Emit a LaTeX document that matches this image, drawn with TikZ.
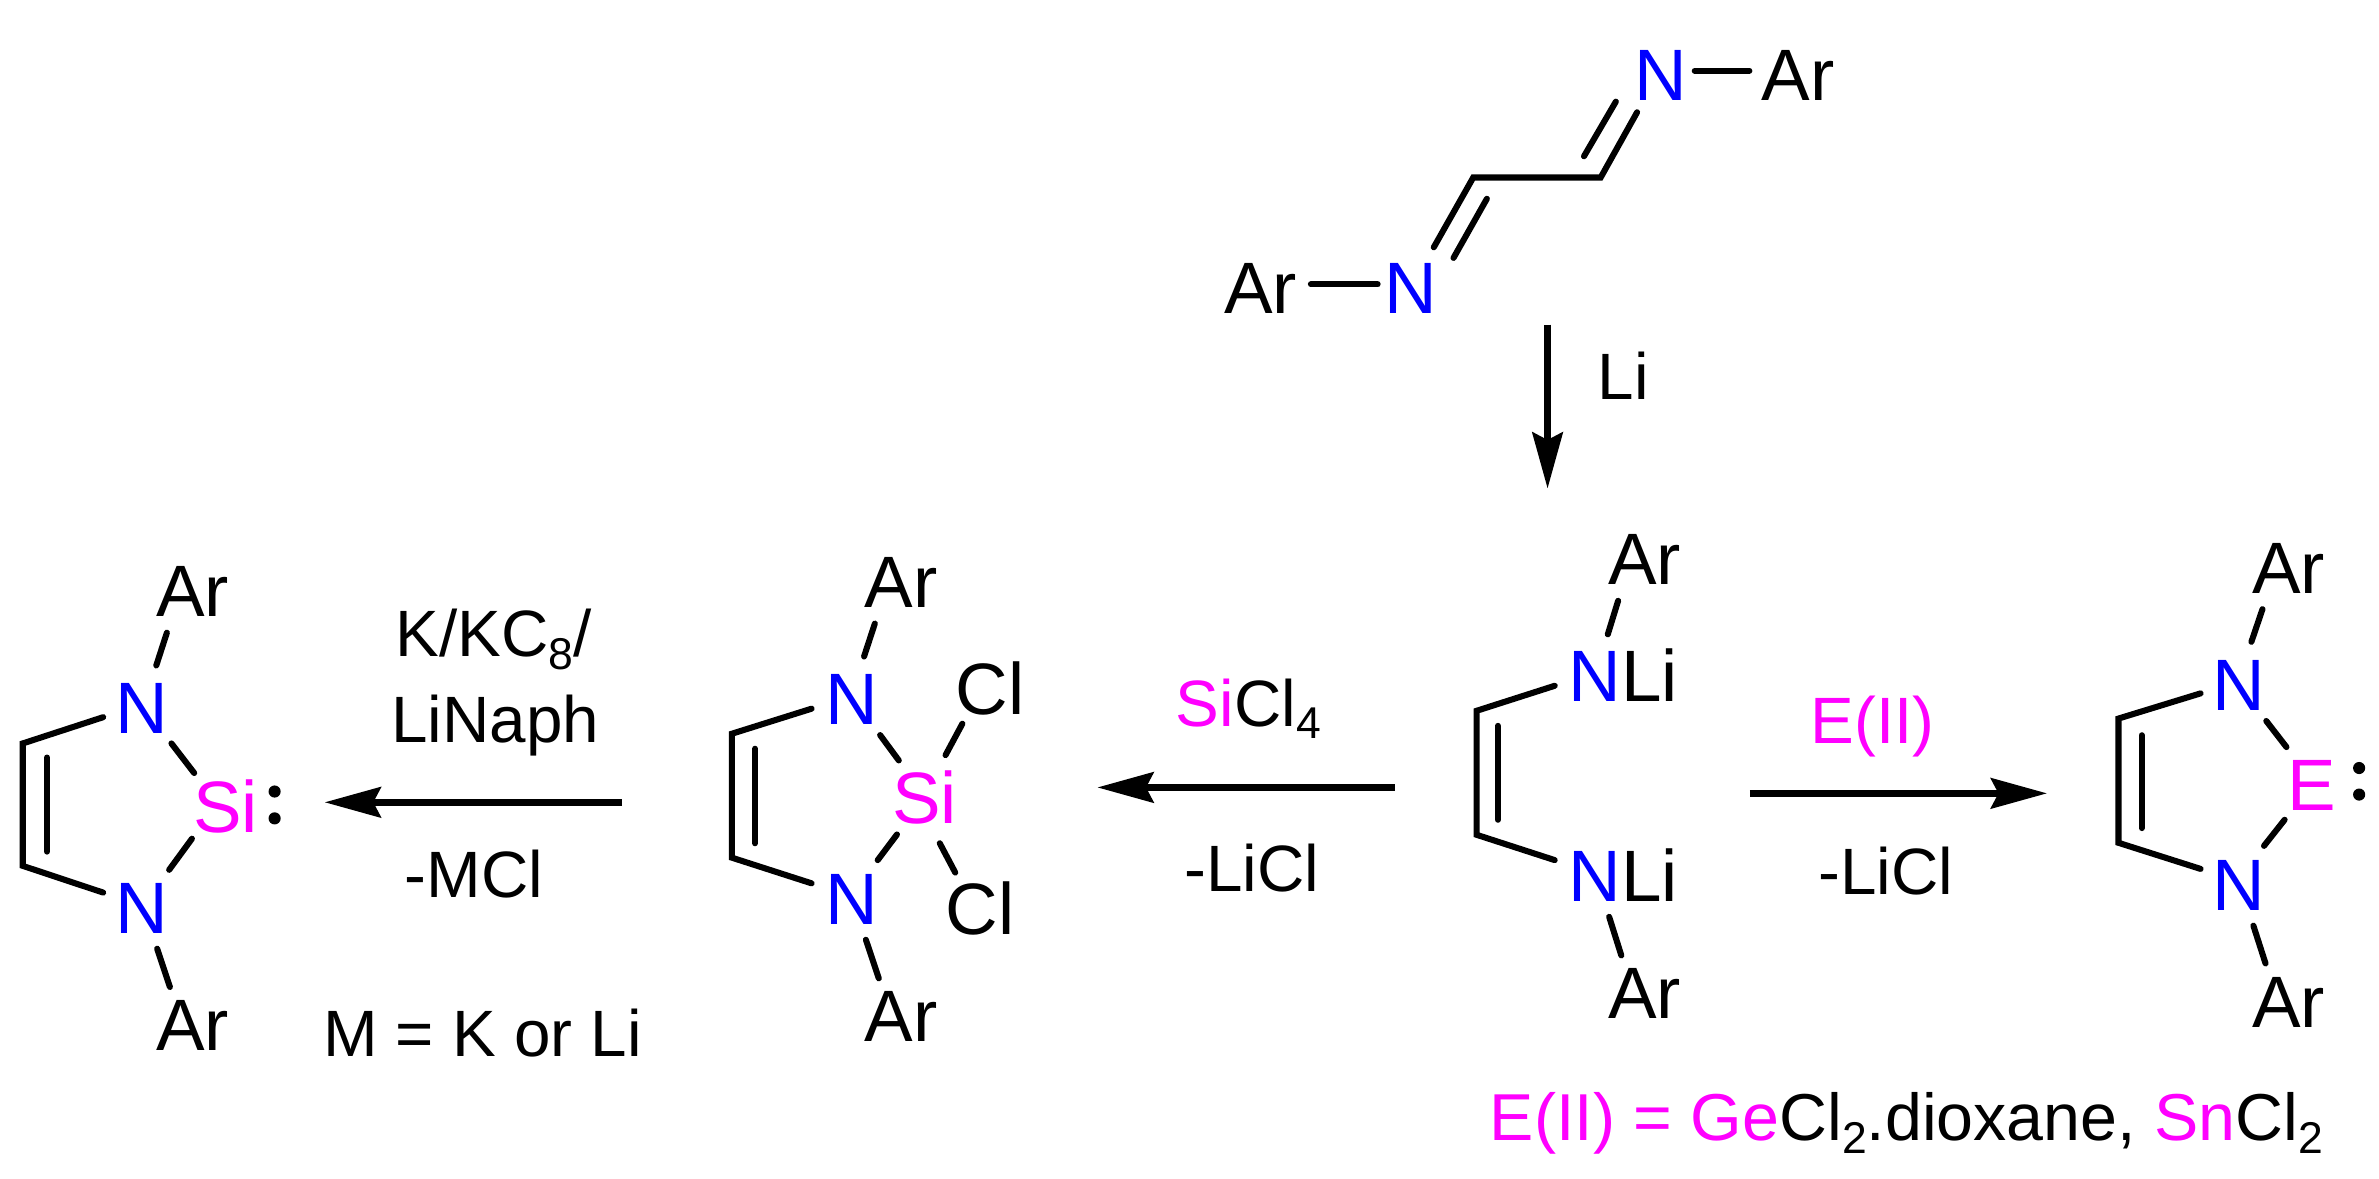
\documentclass[tikz,border=0pt]{standalone}
\usepackage{fontspec}
\setmainfont{Liberation Sans}
\usetikzlibrary{arrows.meta}
\definecolor{atomblue}{RGB}{0,0,255}
\definecolor{atommag}{RGB}{255,0,255}
\newcommand{\atomsize}{\fontsize{36}{36}\selectfont}
\newcommand{\reagsize}{\fontsize{32.4}{36}\selectfont}
\newcommand{\lowsub}[1]{\raisebox{-6pt}{\fontsize{22}{22}\selectfont #1}}
\newcommand{\mg}[1]{\textcolor{atommag}{#1}}
\newcommand{\bnd}[3]{\coordinate (#1a) at (#2); \coordinate (#1b) at (#3); \draw[bond] (#1a) -- (#1b);}
\tikzset{
  lbl/.style={inner sep=0pt,outer sep=0pt,anchor=base west,text=black},
  atomlbl/.style={lbl,font=\atomsize},
  reag/.style={lbl,font=\reagsize},
  natom/.style={atomlbl,text=atomblue},
  matom/.style={atomlbl,text=atommag},
  bond/.style={line width=3pt,line cap=round,line join=miter,draw=black},
  react/.style={line width=3.3pt,draw=black,-{Stealth[length=27.75pt,width=15pt,inset=3.75pt]}},
  lonedot/.style={circle,fill=black,inner sep=0pt,minimum size=6pt}
}
\begin{document}
\begin{tikzpicture}[x=0.75pt,y=-0.75pt]
\useasboundingbox (0,0) rectangle (1568,777);
% diimine
\node[natom] (n1) at (1077.4,66) {N};
\node[atomlbl] (ar1) at (1161,66) {Ar};
\node[natom] (n2) at (912.4,206.6) {N};
\node[atomlbl] (ar2) at (807,206.6) {Ar};
\bnd{t1}{1117,46.6}{1153,46.6}
\bnd{t2}{864,187.4}{908,187.4}
\coordinate (c1) at (971,117); \coordinate (c2) at (1055,117);
\coordinate (t3) at (945,163); \coordinate (t4) at (1079,74);
\draw[bond] (t3) -- (c1) -- (c2) -- (t4);
\bnd{t5}{980,131}{958,170}
\bnd{t6}{1065,67}{1044,103}
\coordinate (d1) at (1020,214); \coordinate (d2) at (1020,322);
\draw[react] (d1) -- (d2);
\node[reag] (li) at (1053,263) {Li};
% left silylene
\node[atomlbl] (a1) at (103,406.4) {Ar};
\node[natom] (a2) at (76.4,483.6) {N};
\node[matom] (a3) at (127.3,549) {Si};
\node[natom] (a4) at (76.4,615.4) {N};
\node[atomlbl] (a5) at (103,692.4) {Ar};
\node[lonedot] (a6) at (181,521.7) {};
\node[lonedot] (a7) at (181,539.4) {};
\coordinate (ar1c) at (68,472.7); \coordinate (ar2c) at (15,490);
\coordinate (ar3c) at (15,570.7); \coordinate (ar4c) at (68,588.3);
\draw[bond] (ar1c) -- (ar2c) -- (ar3c) -- (ar4c);
\bnd{a8}{31,499.3}{31,561.3}
\bnd{a9}{110,417}{103,438.6}
\bnd{a10}{113,490}{128,509.5}
\bnd{a11}{126.5,552.8}{111.5,573.3}
\bnd{a12}{103.6,625.3}{112,650.5}
\coordinate (e1) at (410,528.8); \coordinate (e2) at (214,528.8);
\draw[react] (e1) -- (e2);
\node[reag] (r1) at (260.8,433) {K/KC\lowsub{8}/};
\node[reag] (r2) at (258,489.5) {LiNaph};
\node[reag] (r3) at (266.7,591.6) {-MCl};
\node[reag] (r4) at (213,696.4) {M = K or Li};
% SiCl2 compound
\node[atomlbl] (b1) at (569.8,400.5) {Ar};
\node[natom] (b2) at (544.3,477.7) {N};
\node[matom] (b3) at (588,543) {Si};
\node[atomlbl] (b4) at (629.8,471) {Cl};
\node[atomlbl] (b5) at (623.5,615.9) {Cl};
\node[natom] (b6) at (544.3,609.5) {N};
\node[atomlbl] (b7) at (569.8,686.5) {Ar};
\coordinate (br1) at (534.9,467.1); \coordinate (br2) at (482.4,483.6);
\coordinate (br3) at (482.4,565.3); \coordinate (br4) at (534.9,582.2);
\draw[bond] (br1) -- (br2) -- (br3) -- (br4);
\bnd{b8}{497.7,493.5}{497.7,555.8}
\bnd{b9}{576.6,411}{569.5,432.7}
\bnd{b10}{580.1,484.5}{592.4,501.2}
\bnd{b11}{591.2,550}{578.5,566.9}
\bnd{b12}{634.3,477}{623.2,497.7}
\bnd{b13}{619.4,555.8}{629.6,575.1}
\bnd{b14}{570.7,619.4}{579.2,644.8}
\coordinate (f1) at (919.3,519); \coordinate (f2) at (723.3,519);
\draw[react] (f1) -- (f2);
\node[reag] (s1) at (775,479) {\mg{Si}Cl\lowsub{4}};
\node[reag] (s2) at (780.6,587.8) {-LiCl};
% dilithio
\node[atomlbl] (c3) at (1060,385.4) {Ar};
\node[atomlbl] (c4) at (1034,462.6) {\textcolor{atomblue}{N}Li};
\node[atomlbl] (c5) at (1034,594.4) {\textcolor{atomblue}{N}Li};
\node[atomlbl] (c6) at (1060,671) {Ar};
\coordinate (cr1) at (1024.7,452); \coordinate (cr2) at (973.2,468.5);
\coordinate (cr3) at (973.2,550.2); \coordinate (cr4) at (1024.7,566.9);
\draw[bond] (cr1) -- (cr2) -- (cr3) -- (cr4);
\bnd{c7}{987.3,478.4}{987.3,540.3}
\bnd{c8}{1066.5,396}{1059.7,418.1}
\bnd{c9}{1060.6,604.3}{1068.6,629.7}
\coordinate (g1) at (1153.3,522.9); \coordinate (g2) at (1349.2,522.9);
\draw[react] (g1) -- (g2);
\node[reag] (e3) at (1193.6,490) {\mg{E(II)}};
\node[reag] (e4) at (1198.7,589.3) {-LiCl};
% germylene/stannylene
\node[atomlbl] (h1) at (1484.4,391.3) {Ar};
\node[natom] (h2) at (1458.2,468.3) {N};
\node[matom] (h3) at (1507.8,534) {E};
\node[natom] (h4) at (1458.2,599.9) {N};
\node[atomlbl] (h5) at (1484.4,677.2) {Ar};
\node[lonedot] (h6) at (1554.9,506.2) {};
\node[lonedot] (h7) at (1554.9,523.7) {};
\coordinate (hr1) at (1450.4,457); \coordinate (hr2) at (1396.3,473.6);
\coordinate (hr3) at (1396.3,555.5); \coordinate (hr4) at (1450.4,572.7);
\draw[bond] (hr1) -- (hr2) -- (hr3) -- (hr4);
\bnd{h8}{1411.6,484.6}{1411.6,545.8}
\bnd{h9}{1491.2,401.5}{1483.9,423}
\bnd{h10}{1493.7,475.2}{1507,492.4}
\bnd{h11}{1505.8,540.3}{1492.2,557.5}
\bnd{h12}{1485.2,610.1}{1493.2,635}
\node[lbl,font=\fontsize{32.8}{36}\selectfont] (note) at (982,752) {\mg{E(II) = Ge}Cl\lowsub{2}.dioxane, \mg{Sn}Cl\lowsub{2}};
\end{tikzpicture}
\end{document}
